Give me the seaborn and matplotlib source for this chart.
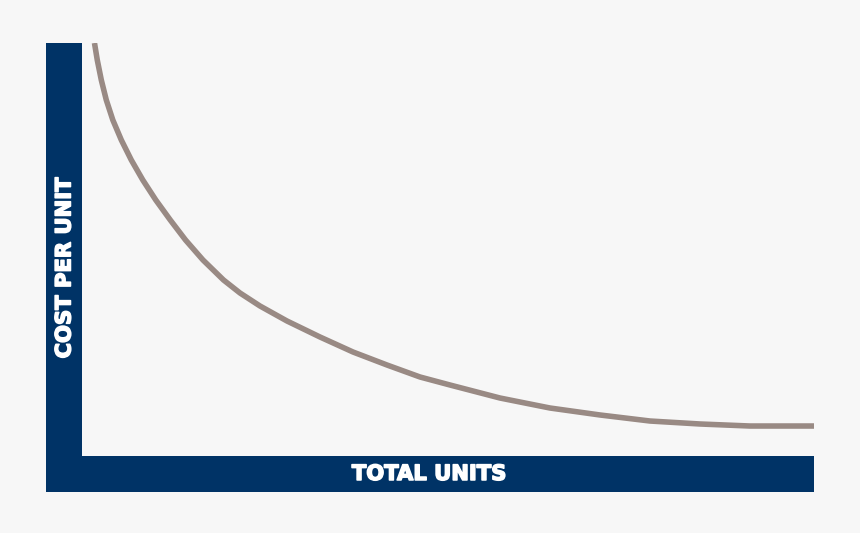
import matplotlib
matplotlib.use('Agg')
import matplotlib.pyplot as plt
import matplotlib.patheffects as pe
from matplotlib.patches import Rectangle
import seaborn as sns
import pandas as pd

# --- data (arbitrary units 0-100) ---
total_units = [1.84, 2.22, 2.77, 3.45, 4.34, 5.50, 6.86, 8.43, 10.20, 12.18, 14.26,
               16.64, 19.44, 21.69, 24.42, 28.10, 32.61, 37.11, 41.75, 46.25, 50.34,
               57.16, 63.98, 70.81, 77.63, 84.45, 91.27, 100.0]
cost_per_unit = [100.0, 95.88, 91.04, 86.20, 81.36, 76.51, 71.67, 66.83, 61.99, 57.14,
                 52.30, 47.46, 42.62, 39.47, 36.32, 32.69, 28.81, 25.18, 22.03, 19.13,
                 17.19, 14.04, 11.62, 9.93, 8.47, 7.75, 7.26, 7.26]
x_label = "TOTAL UNITS"
y_label = "COST PER UNIT"

BG = '#f7f7f7'
NAVY = '#003366'
CURVE = '#998a84'

sns.set_style('white')
plt.rcParams['font.family'] = ['DejaVu Sans']

W, H = 860, 533
fig = plt.figure(figsize=(W / 100, H / 100), dpi=100)
fig.patch.set_facecolor(BG)

def fbox(x0, y0, x1, y1):
    # pixel box (top-left origin) -> figure fraction [left, bottom, width, height]
    return [x0 / W, 1 - y1 / H, (x1 - x0) / W, (y1 - y0) / H]

# L-shaped axis bars
vb = fbox(46, 43, 82, 492)
hb = fbox(46, 456, 814, 492)
fig.add_artist(Rectangle((vb[0], vb[1]), vb[2], vb[3], transform=fig.transFigure,
                         facecolor=NAVY, edgecolor='none'))
fig.add_artist(Rectangle((hb[0], hb[1]), hb[2], hb[3], transform=fig.transFigure,
                         facecolor=NAVY, edgecolor='none'))

# heavier look for the labels (reference uses a black-weight face)
heavy = [pe.Stroke(linewidth=1.1, foreground='white'), pe.Normal()]
fig.text(64.5 / W, 1 - 267.5 / H, y_label, rotation=90, color='white',
         fontsize=15.2, fontweight='bold', ha='center', va='center', path_effects=heavy)
fig.text(429.5 / W, 1 - 474 / H, x_label, color='white',
         fontsize=15.2, fontweight='bold', ha='center', va='center', path_effects=heavy)

# plotting area inside the L
ax = fig.add_axes(fbox(81, 43, 814, 456))
ax.set_facecolor('none')
df = pd.DataFrame({'units': total_units, 'cost': cost_per_unit})
sns.lineplot(data=df, x='units', y='cost', ax=ax, color=CURVE, linewidth=4,
             solid_capstyle='butt', solid_joinstyle='round', sort=False)
ax.set_xlim(0, 100)
ax.set_ylim(0, 100)
ax.set_xticks([])
ax.set_yticks([])
ax.set_xlabel('')
ax.set_ylabel('')
for s in ax.spines.values():
    s.set_visible(False)

fig.savefig('out.png', dpi=100, facecolor=BG)
